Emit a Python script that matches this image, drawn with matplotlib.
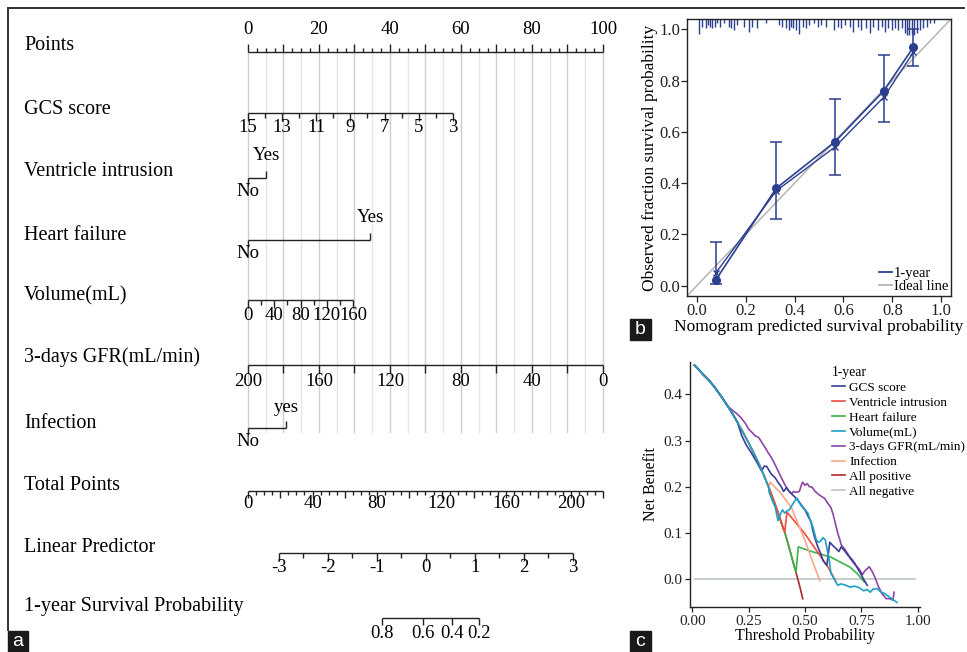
import numpy as np
import matplotlib

matplotlib.use("Agg")
import matplotlib.pyplot as plt
from matplotlib.lines import Line2D
from matplotlib.patches import Rectangle

W, H = 967, 652
INK = "#222222"
plt.rcParams["font.family"] = ["Liberation Serif", "DejaVu Serif"]

# ---------------- (a) nomogram values ----------------
points_ticks = np.arange(0, 100.01, 2.5)
points_labels = [0, 20, 40, 60, 80, 100]
gcs_levels = list(range(15, 2, -1))
gcs_label_levels = [15, 13, 11, 9, 7, 5, 3]
gcs_pts_range = (0.0, 57.7)          # points at GCS 15 and GCS 3
ventricle_levels = ["No", "Yes"]
ventricle_pts = [0.0, 5.1]
heart_levels = ["No", "Yes"]
heart_pts = [0.0, 34.4]
volume_ticks = list(range(0, 161, 20))
volume_labels = [0, 40, 80, 120, 160]
volume_pts_range = (0.0, 29.6)       # points at 0 and 160 mL
gfr_ticks = list(range(200, -1, -20))
gfr_labels = [200, 160, 120, 80, 40, 0]
infection_levels = ["No", "yes"]
infection_pts = [0.0, 10.7]
total_ticks = list(range(0, 221, 5))
total_labels = [0, 40, 80, 120, 160, 200]
total_max = 220
lp_ticks = np.arange(-3, 3.01, 0.5)
lp_labels = [-3, -2, -1, 0, 1, 2, 3]
lp_total_range = (19.2, 201.4)       # total points at LP -3 and +3
surv_labels = ["0.8", "0.6", "0.4", "0.2"]
surv_total = [83.0, 108.5, 126.4, 143.2]

row_names = ["Points", "GCS score", "Ventricle intrusion", "Heart failure",
             "Volume(mL)", "3-days GFR(mL/min)", "Infection", "Total Points",
             "Linear Predictor", "1-year Survival Probability"]

# ---------------- (b) calibration values ----------------
cal_pred = [0.078, 0.325, 0.564, 0.765, 0.886]
cal_obs = [0.023, 0.38, 0.56, 0.76, 0.93]
cal_lo = [0.005, 0.26, 0.43, 0.64, 0.855]
cal_hi = [0.17, 0.56, 0.73, 0.90, 1.0]
cal_corr = [0.05, 0.37, 0.54, 0.735, 0.91]
rug_x = [0.008, 0.02, 0.036, 0.045, 0.053, 0.062, 0.074, 0.083, 0.097, 0.11,
         0.13, 0.14, 0.152, 0.166, 0.193, 0.214, 0.227, 0.248, 0.284,
         0.337, 0.35, 0.366, 0.376, 0.386, 0.395, 0.407, 0.42, 0.434, 0.447,
         0.46, 0.48, 0.495, 0.51, 0.53, 0.56, 0.577, 0.59, 0.605, 0.625, 0.64,
         0.66, 0.673, 0.694, 0.708, 0.72, 0.74, 0.756, 0.77, 0.783, 0.797,
         0.81, 0.823, 0.838, 0.85, 0.86, 0.87, 0.88, 0.889, 0.9, 0.913,
         0.927, 0.94, 0.955, 0.97]
rug_h = [0.06, 0.03, 0.036, 0.024, 0.033, 0.036, 0.03, 0.014, 0.033, 0.014,
         0.03, 0.036, 0.042, 0.024, 0.033, 0.05, 0.03, 0.036, 0.014,
         0.024, 0.033, 0.036, 0.042, 0.03, 0.036, 0.042, 0.058, 0.03, 0.036,
         0.024, 0.014, 0.03, 0.024, 0.033, 0.042, 0.03, 0.036, 0.024, 0.033, 0.05,
         0.03, 0.042, 0.036, 0.055, 0.033, 0.042, 0.03, 0.05, 0.036, 0.042,
         0.036, 0.042, 0.036, 0.055, 0.062, 0.062, 0.058, 0.062, 0.055, 0.042,
         0.036, 0.03, 0.014, 0.014]

# ---------------- (c) decision curve values ----------------
thr_all = [0.01, 0.03, 0.05, 0.075, 0.10, 0.125, 0.15, 0.175, 0.20, 0.225, 0.25,
           0.275, 0.30, 0.32, 0.34, 0.36, 0.38, 0.40, 0.41, 0.43, 0.45, 0.46,
           0.475, 0.49]
nb_all = [0.463, 0.453, 0.442, 0.43, 0.415, 0.398, 0.38, 0.361, 0.34, 0.318, 0.295,
          0.271, 0.245, 0.222, 0.198, 0.172, 0.145, 0.115, 0.102, 0.068, 0.032, 0.015,
          -0.012, -0.042]

gcs_x = [0.22, 0.24, 0.264, 0.29, 0.307, 0.32, 0.33, 0.35, 0.367, 0.38, 0.395, 0.405,
         0.418, 0.43, 0.44, 0.455, 0.47, 0.485, 0.50, 0.515, 0.527, 0.535, 0.543,
         0.557, 0.57, 0.58, 0.597, 0.61, 0.625, 0.637, 0.65, 0.66, 0.675, 0.69,
         0.705, 0.72, 0.735, 0.746, 0.76, 0.776]
gcs_y = [0.31, 0.29, 0.272, 0.25, 0.235, 0.245, 0.244, 0.228, 0.22, 0.21, 0.20, 0.19,
         0.198, 0.19, 0.185, 0.178, 0.17, 0.16, 0.15, 0.135, 0.124, 0.105, 0.09,
         0.07, 0.055, 0.04, 0.03, 0.08, 0.072, 0.067, 0.06, 0.07, 0.062, 0.052,
         0.045, 0.035, 0.022, 0.013, 0.0, -0.013]

vent_x = [0.42, 0.46, 0.50, 0.55, 0.60, 0.636]
vent_y = [0.145, 0.122, 0.098, 0.063, 0.028, -0.004]

heart_x = [0.47, 0.53, 0.614, 0.70, 0.73, 0.763]
heart_y = [0.07, 0.06, 0.048, 0.026, 0.013, -0.006]

vol_x = [0.34, 0.355, 0.368, 0.38, 0.39, 0.40, 0.41, 0.42, 0.43, 0.44, 0.455, 0.465,
         0.475, 0.49, 0.50, 0.513, 0.525, 0.535, 0.55, 0.56, 0.568, 0.58, 0.59, 0.60,
         0.608, 0.615, 0.63, 0.645, 0.66, 0.675, 0.69, 0.70, 0.72, 0.74, 0.76, 0.775,
         0.79, 0.80, 0.82, 0.835, 0.85, 0.87, 0.893, 0.908]
vol_y = [0.19, 0.17, 0.156, 0.127, 0.14, 0.15, 0.143, 0.148, 0.15, 0.158, 0.17, 0.175,
         0.165, 0.155, 0.15, 0.143, 0.125, 0.113, 0.085, 0.08, 0.082, 0.09, 0.085, 0.06,
         0.04, 0.013, 0.0, -0.013, -0.01, -0.012, -0.015, -0.017, -0.015, -0.018, -0.025,
         -0.022, -0.028, -0.022, -0.02, -0.027, -0.03, -0.037, -0.045, -0.05]

gfr_x = [0.162, 0.18, 0.198, 0.215, 0.236, 0.25, 0.264, 0.28, 0.294, 0.31, 0.323, 0.335,
         0.35, 0.36, 0.373, 0.385, 0.395, 0.405, 0.417, 0.43, 0.44, 0.45, 0.46, 0.475,
         0.485, 0.49, 0.50, 0.51, 0.52, 0.53, 0.545, 0.557, 0.57, 0.587, 0.60, 0.615,
         0.625, 0.635, 0.645, 0.655, 0.66, 0.675, 0.69, 0.70, 0.72, 0.74, 0.755, 0.765,
         0.785, 0.80, 0.81, 0.825, 0.84, 0.86, 0.875, 0.89, 0.895]
gfr_y = [0.372, 0.365, 0.358, 0.35, 0.337, 0.325, 0.318, 0.31, 0.307, 0.295, 0.285, 0.275,
         0.264, 0.255, 0.242, 0.23, 0.22, 0.21, 0.199, 0.19, 0.185, 0.19, 0.188, 0.19,
         0.205, 0.21, 0.203, 0.207, 0.2, 0.2, 0.19, 0.185, 0.18, 0.175, 0.165, 0.155,
         0.14, 0.12, 0.10, 0.085, 0.075, 0.066, 0.055, 0.045, 0.033, 0.022, 0.01, 0.018,
         0.027, 0.015, 0.004, -0.015, -0.03, -0.042, -0.042, -0.045, -0.028]

inf_x = [0.345, 0.39, 0.44, 0.50, 0.543, 0.566]
inf_y = [0.21, 0.188, 0.155, 0.084, 0.026, -0.003]

none_x = [0.01, 0.99]
none_y = [0.0, 0.0]


def rect(x0, y0, x1, y1):
    return [x0 / W, 1 - y1 / H, (x1 - x0) / W, (y1 - y0) / H]


def tag(fig, x0, y0, x1, y1, s):
    fig.patches.append(Rectangle((x0 / W, 1 - y1 / H), (x1 - x0) / W, (y1 - y0) / H,
                                 transform=fig.transFigure, color="#1a1a1a", zorder=5))
    fig.text((x0 + x1) / 2 / W, 1 - (y0 + y1) / 2 / H, s, color="white", ha="center",
             va="center", fontsize=14, family="Liberation Sans", zorder=6)


fig = plt.figure(figsize=(W / 100, H / 100), dpi=100)

# frame lines
fig.add_artist(Line2D([8 / W, 964 / W], [1 - 8 / H, 1 - 8 / H], transform=fig.transFigure,
                      color="#333333", lw=1.4))
fig.add_artist(Line2D([8 / W, 8 / W], [1 - 8 / H, 1 - 630 / H], transform=fig.transFigure,
                      color="#333333", lw=1.4))

# ---------------- panel a ----------------
PX0, PXS = 248.0, 3.55   # pixel of 0 points, pixels per point
axa = fig.add_axes(rect(0, 0, 620, 652))
axa.set_xlim((0 - PX0) / PXS, (620 - PX0) / PXS)
axa.set_ylim(652, 0)
axa.axis("off")

label_y = [46, 109, 172, 235, 296, 357, 423, 486, 548, 607]
axis_y = [52, 113, 178, 240, 300, 365, 428, 491, 553, 618]
FS_LAB, FS_TICK = 14.5, 13.5

for name, ly in zip(row_names, label_y):
    axa.text((24 - PX0) / PXS, ly, name, ha="left", va="center", fontsize=FS_LAB)

# grid lines every 5 points
for p in np.arange(0, 100.01, 5):
    c = "#cdcdcd" if p % 10 == 0 else "#e6e6e6"
    axa.plot([p, p], [axis_y[0], 432], color=c, lw=1.0, zorder=0)


def hline(x0, x1, y):
    axa.plot([x0, x1], [y, y], color=INK, lw=1.0, solid_capstyle="butt")


def ticks(xs, y, lens):
    for x, L in zip(xs, lens):
        axa.plot([x, x], [y, y + L], color=INK, lw=1.0, solid_capstyle="butt")


def labels(xs, y, texts):
    for x, t in zip(xs, texts):
        axa.text(x, y, str(t), ha="center", va="center", fontsize=FS_TICK)


# Points
y = axis_y[0]
hline(0, 100, y)
ticks(points_ticks, y, [-8 if p % 10 == 0 else -4 for p in points_ticks])
labels(points_labels, y - 22, points_labels)

# GCS
y = axis_y[1]
gcs_pos = np.interp(gcs_levels, [3, 15], gcs_pts_range[::-1])
hline(gcs_pos.min(), gcs_pos.max(), y)
ticks(gcs_pos, y, [8 if g in gcs_label_levels else 5 for g in gcs_levels])
labels(np.interp(gcs_label_levels, [3, 15], gcs_pts_range[::-1]), y + 15, gcs_label_levels)


def binary(y, levels, pts, up_dy, dn_dy):
    hline(pts[0], pts[1], y)
    ticks([pts[0]], y, [7])
    ticks([pts[1]], y, [-7])
    axa.text(pts[0], y + dn_dy, levels[0], ha="center", va="center", fontsize=FS_TICK)
    axa.text(pts[1], y - up_dy, levels[1], ha="center", va="center", fontsize=FS_TICK)


binary(axis_y[2], ventricle_levels, ventricle_pts, 22, 13)
binary(axis_y[3], heart_levels, heart_pts, 22, 13)

# Volume
y = axis_y[4]
vol_pos = np.interp(volume_ticks, [0, 160], volume_pts_range)
hline(vol_pos.min(), vol_pos.max(), y)
ticks(vol_pos, y, [8 if v in volume_labels else 5 for v in volume_ticks])
labels(np.interp(volume_labels, [0, 160], volume_pts_range), y + 15, volume_labels)

# GFR
y = axis_y[5]
gfr_pos = np.interp(gfr_ticks, [0, 200], [100, 0])
hline(0, 100, y)
ticks(gfr_pos, y, [8] * len(gfr_pos))
labels(np.interp(gfr_labels, [0, 200], [100, 0]), y + 16, gfr_labels)

binary(axis_y[6], infection_levels, infection_pts, 20, 13)

# Total points
y = axis_y[7]
tp_pos = np.array(total_ticks) / total_max * 100
hline(0, 100, y)
ticks(tp_pos, y, [7 if t % 20 == 0 else 4 for t in total_ticks])
labels(np.array(total_labels) / total_max * 100, y + 13, total_labels)

# Linear predictor
y = axis_y[8]


def lp_to_pts(v):
    v = np.asarray(v, dtype=float)
    tp = lp_total_range[0] + (v + 3) / 6 * (lp_total_range[1] - lp_total_range[0])
    return tp / total_max * 100


lp_pos = lp_to_pts(lp_ticks)
hline(lp_pos.min(), lp_pos.max(), y)
ticks(lp_pos, y, [8 if abs(v - round(v)) < 1e-9 else 5 for v in lp_ticks])
labels(lp_to_pts(lp_labels), y + 15, lp_labels)

# Survival probability
y = axis_y[9]
sv_pos = np.array(surv_total) / total_max * 100
hline(sv_pos.min(), sv_pos.max(), y)
ticks(sv_pos, y, [7] * len(sv_pos))
labels(sv_pos, y + 15, surv_labels)

# ---------------- panel b ----------------
BLUE = "#2b3f8e"
axb = fig.add_axes(rect(687, 19, 951, 296))
axb.set_xlim(-0.04, 1.04)
axb.set_ylim(-0.04, 1.04)
axb.plot([-0.04, 1.04], [-0.04, 1.04], color="#b5b5b5", lw=1.1, zorder=1)
axb.vlines(rug_x, 1.04 - np.array(rug_h), 1.04, color=BLUE, lw=1.0, zorder=2)
obs = np.array(cal_obs)
axb.errorbar(cal_pred, cal_obs, yerr=[obs - np.array(cal_lo), np.array(cal_hi) - obs],
             fmt="none", ecolor=BLUE, elinewidth=1.1, capsize=4.5, capthick=1.1, zorder=3)
axb.plot(cal_pred, cal_corr, color=BLUE, lw=1.0, marker="x", ms=4, mew=1.0, zorder=3)
axb.plot(cal_pred, cal_obs, color=BLUE, lw=1.2, marker="o", ms=5.5, zorder=4)
axb.set_xticks(np.arange(0, 1.01, 0.2))
axb.set_yticks(np.arange(0, 1.01, 0.2))
axb.set_xticklabels([f"{v:.1f}" for v in np.arange(0, 1.01, 0.2)])
axb.set_yticklabels([f"{v:.1f}" for v in np.arange(0, 1.01, 0.2)])
axb.tick_params(direction="out", length=4, width=0.9, labelsize=12, pad=1, colors="#222222")
for s in axb.spines.values():
    s.set_linewidth(1.0)
    s.set_color("#222222")
axb.set_xlabel("Nomogram predicted survival probability", fontsize=12.5, labelpad=0)
axb.set_ylabel("Observed fraction survival probability", fontsize=12.5, labelpad=1)
leg_handles = [Line2D([], [], color=BLUE, lw=1.3), Line2D([], [], color="#b5b5b5", lw=1.3)]
axb.legend(leg_handles, ["1-year", "Ideal line"], loc="lower right", frameon=False,
           fontsize=10.5, handlelength=0.9, handletextpad=0.1, labelspacing=0.0,
           borderaxespad=0.1, borderpad=0.1)

# ---------------- panel c ----------------
axc = fig.add_axes(rect(690, 362, 920, 607))
axc.set_xlim(-0.01, 1.01)
axc.set_ylim(-0.06, 0.47)


def with_head(upto, xs, ys):
    hx = [t for t in thr_all if t <= upto]
    hy = nb_all[:len(hx)]
    return hx + list(xs), hy + list(ys)


series = [
    ("GCS score", "#3a3f94", with_head(0.20, gcs_x, gcs_y), 6),
    ("Ventricle intrusion", "#ef4b3f", with_head(0.41, vent_x, vent_y), 3),
    ("Heart failure", "#3cb44b", with_head(0.46, heart_x, heart_y), 2),
    ("Volume(mL)", "#1ba1c7", with_head(0.34, vol_x, vol_y), 7),
    ("3-days GFR(mL/min)", "#8c46a8", with_head(0.15, gfr_x, gfr_y), 5),
    ("Infection", "#f8a88a", with_head(0.34, inf_x, inf_y), 4),
    ("All positive", "#b0262b", (thr_all, nb_all), 1),
    ("All negative", "#bcc6c6", (none_x, none_y), 0.5),
]
for name, col, (xs, ys), z in series:
    axc.plot(xs, ys, color=col, lw=1.2, label=name, zorder=z)

axc.spines["top"].set_visible(False)
axc.spines["right"].set_visible(False)
for s in ("left", "bottom"):
    axc.spines[s].set_linewidth(1.0)
    axc.spines[s].set_color("#222222")
axc.set_xticks([0, 0.25, 0.5, 0.75, 1.0])
axc.set_xticklabels(["0.00", "0.25", "0.50", "0.75", "1.00"])
axc.set_yticks([0, 0.1, 0.2, 0.3, 0.4])
axc.set_yticklabels(["0.0", "0.1", "0.2", "0.3", "0.4"])
axc.tick_params(direction="out", length=3.5, width=0.9, labelsize=11, pad=2, colors="#222222")
axc.set_xlabel("Threshold Probability", fontsize=11.5, labelpad=0)
axc.set_ylabel("Net Benefit", fontsize=11.5, labelpad=3)
axc.legend(loc="upper left", bbox_to_anchor=(824 / W, 1 - 358 / H), bbox_transform=fig.transFigure,
           title="1-year", title_fontsize=9.8, fontsize=9.5, frameon=False, alignment="left",
           handlelength=1.0, handletextpad=0.3, labelspacing=0.2, borderpad=0.1)

tag(fig, 8, 631, 28, 652, "a")
tag(fig, 630, 319, 651, 340, "b")
tag(fig, 630, 631, 651, 652, "c")

fig.savefig("out.png", dpi=100)
